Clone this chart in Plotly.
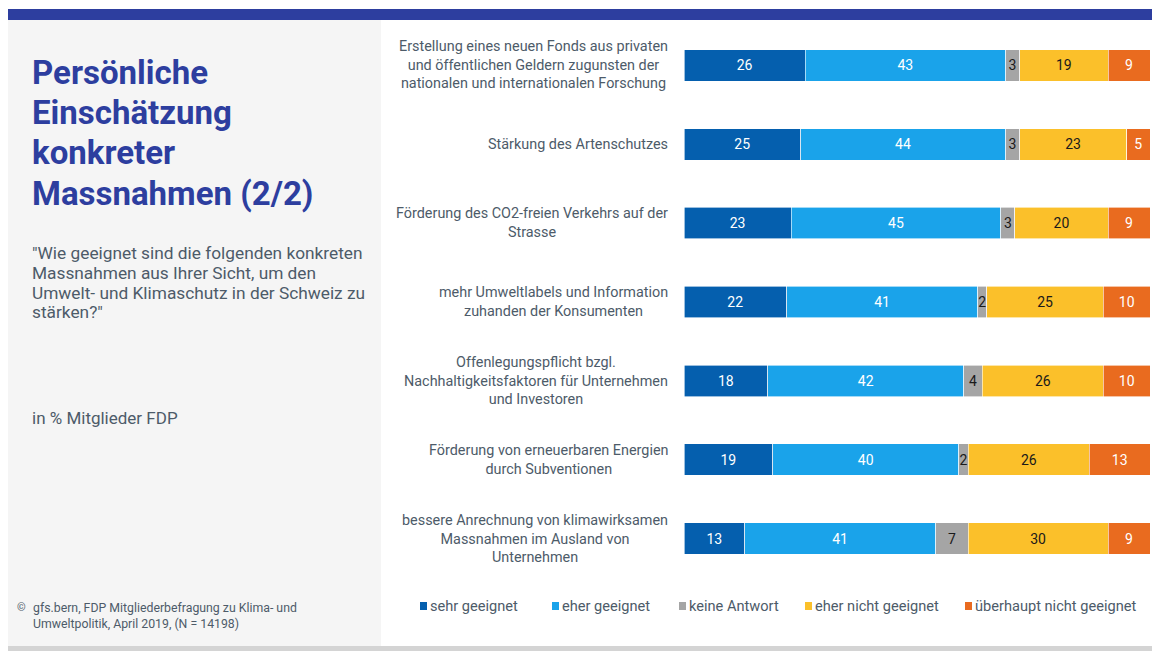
import plotly.graph_objects as go

# ---------------- data ----------------
categories = [
    "Erstellung eines neuen Fonds aus privaten<br>und öffentlichen Geldern zugunsten der<br>nationalen und internationalen Forschung",
    "Stärkung des Artenschutzes",
    "Förderung des CO2-freien Verkehrs auf der<br>Strasse",
    "mehr Umweltlabels und Information<br>zuhanden der Konsumenten",
    "Offenlegungspflicht bzgl.<br>Nachhaltigkeitsfaktoren für Unternehmen<br>und Investoren",
    "Förderung von erneuerbaren Energien<br>durch Subventionen",
    "bessere Anrechnung von klimawirksamen<br>Massnahmen im Ausland von<br>Unternehmen",
]
series_names = ["sehr geeignet", "eher geeignet", "keine Antwort",
                "eher nicht geeignet", "überhaupt nicht geeignet"]
sehr_geeignet = [26, 25, 23, 22, 18, 19, 13]
eher_geeignet = [43, 44, 45, 41, 42, 40, 41]
keine_antwort = [3, 3, 3, 2, 4, 2, 7]
eher_nicht_geeignet = [19, 23, 20, 25, 26, 26, 30]
ueberhaupt_nicht_geeignet = [9, 5, 9, 10, 10, 13, 9]

series_values = [sehr_geeignet, eher_geeignet, keine_antwort,
                 eher_nicht_geeignet, ueberhaupt_nicht_geeignet]
colors = ["#055fae", "#1aa3ea", "#a5a5a5", "#fbc02a", "#e96b1f"]
text_colors = ["white", "white", "#1a1a1a", "#1a1a1a", "white"]

title_lines = ["Persönliche", "Einschätzung", "konkreter", "Massnahmen (2/2)"]
question_lines = ["\"Wie geeignet sind die folgenden konkreten",
                  "Massnahmen aus Ihrer Sicht, um den",
                  "Umwelt- und Klimaschutz in der Schweiz zu",
                  "stärken?\""]
basis_text = "in % Mitglieder FDP"
source_text = "gfs.bern, FDP Mitgliederbefragung zu Klima- und<br>Umweltpolitik, April 2019, (N = 14198)"

# ---------------- layout geometry ----------------
OFF = 0                      # body margin is removed below
W, H = 1153 - OFF, 651 - OFF
ML, MR, MT, MB = 684 - OFF, 3, 26 - OFF, 73
PW = W - ML - MR
PH = H - MT - MB

def px(x):
    """screen x -> paper coordinate"""
    return (x - OFF - ML) / PW

def py(y):
    """screen y -> paper coordinate"""
    return (H - MB - (y - OFF)) / PH

FONT = "Roboto"
GREY_TXT = "#4d5b69"
BLUE = "#2d3e9f"

fig = go.Figure()
for name, vals, col, tcol in zip(series_names, series_values, colors, text_colors):
    fig.add_trace(go.Bar(
        y=categories, x=vals, name=name, orientation="h",
        marker=dict(color=col, line=dict(color="white", width=0.6)),
        text=vals, texttemplate="%{text}", textposition="inside",
        insidetextanchor="middle", textangle=0, constraintext="none",
        insidetextfont=dict(family=FONT, size=14, color=tcol),
        showlegend=False, hoverinfo="x+name",
    ))

annotations = []
# category labels
for c in categories:
    annotations.append(dict(
        x=px(670), xref="paper", y=c, yref="y", text=c, showarrow=False,
        xanchor="right", yanchor="middle", align="center",
        font=dict(family=FONT, size=14.4, color=GREY_TXT)))

def left_text(text, x, y, size, color, bold=False):
    annotations.append(dict(x=px(x), y=py(y), xref="paper", yref="paper",
                            text=("<b>%s</b>" % text) if bold else text,
                            showarrow=False, xanchor="left", yanchor="middle", align="left",
                            font=dict(family=FONT, size=size, color=color)))

for i, line in enumerate(title_lines):
    left_text(line, 30, 72 + 40.4 * i, 33, BLUE, bold=True)
for i, line in enumerate(question_lines):
    left_text(line, 30, 253 + 19.8 * i, 17.3, GREY_TXT)
left_text(basis_text, 30, 418, 17, GREY_TXT)

annotations.append(dict(x=px(15), y=py(599), xref="paper", yref="paper", text="©",
                        showarrow=False, xanchor="left", yanchor="top", align="left",
                        font=dict(family=FONT, size=11, color=GREY_TXT)))
annotations.append(dict(x=px(31), y=py(599), xref="paper", yref="paper", text=source_text,
                        showarrow=False, xanchor="left", yanchor="top", align="left",
                        font=dict(family=FONT, size=12.3, color=GREY_TXT)))

# manual legend
legend_x = [420, 552, 679, 805, 965]
shapes = [
    dict(type="rect", xref="paper", yref="paper", x0=px(8), x1=px(381), y0=py(646), y1=py(20),
         fillcolor="#f5f5f5", line=dict(width=0), layer="below"),
    dict(type="rect", xref="paper", yref="paper", x0=px(8), x1=px(1152), y0=py(20), y1=py(9),
         fillcolor=BLUE, line=dict(width=0), layer="below"),
    dict(type="rect", xref="paper", yref="paper", x0=px(8), x1=px(1152), y0=py(651), y1=py(646),
         fillcolor="#d4d4d4", line=dict(width=0), layer="below"),
]
for lx, name, col in zip(legend_x, series_names, colors):
    shapes.append(dict(type="rect", xref="paper", yref="paper", x0=px(lx), x1=px(lx + 7),
                       y0=py(610), y1=py(602), fillcolor=col, line=dict(width=0)))
    annotations.append(dict(x=px(lx + 8), y=py(606), xref="paper", yref="paper", text=name,
                            showarrow=False, xanchor="left", yanchor="middle",
                            font=dict(family=FONT, size=14.6, color=GREY_TXT)))

fig.update_layout(
    width=W, height=H, barmode="stack", bargap=0.6,
    margin=dict(l=ML, r=MR, t=MT, b=MB, autoexpand=False),
    paper_bgcolor="white", plot_bgcolor="white",
    xaxis=dict(range=[0, 100], visible=False, fixedrange=True),
    yaxis=dict(categoryorder="array", categoryarray=categories, autorange="reversed",
               showticklabels=False, showgrid=False, zeroline=False, showline=False, ticks=""),
    annotations=annotations, shapes=shapes,
    font=dict(family=FONT, color=GREY_TXT),
)

# remove the default page margin and scrollbars so the figure fills the window exactly
fig.write_html("out.html",
               config={"displayModeBar": False},
               post_script="document.body.style.margin='0';"
                           "document.documentElement.style.overflow='hidden';"
                           "document.body.style.overflow='hidden';")
